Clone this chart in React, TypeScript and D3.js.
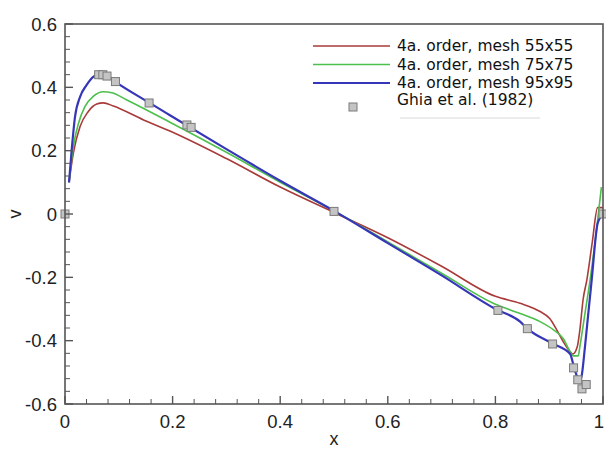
import React from "react";
import * as d3 from "d3";

const W = 606;
const H = 450;

// Series: 4a. order, mesh 55x55 (red)
const redX = [0.0075, 0.0155, 0.028, 0.043, 0.059, 0.071, 0.09, 0.146, 0.195, 0.3, 0.4, 0.5, 0.6, 0.7, 0.8, 0.846, 0.883, 0.901, 0.914, 0.926, 0.939, 0.944, 0.952, 0.957, 0.963, 0.970, 0.98, 0.99, 1.0];
const redV = [0.10, 0.192, 0.276, 0.323, 0.347, 0.351, 0.341, 0.297, 0.262, 0.175, 0.085, 0.005, -0.075, -0.165, -0.26, -0.282, -0.308, -0.33, -0.366, -0.403, -0.435, -0.442, -0.42, -0.366, -0.27, -0.208, -0.09, 0.02, 0.02];

// Series: 4a. order, mesh 75x75 (green)
const greenX = [0.0075, 0.0155, 0.025, 0.037, 0.053, 0.071, 0.087, 0.115, 0.195, 0.3, 0.4, 0.5, 0.6, 0.7, 0.8, 0.846, 0.883, 0.908, 0.926, 0.939, 0.945, 0.954, 0.957, 0.9665, 0.976, 0.988, 0.997];
const greenV = [0.10, 0.213, 0.286, 0.339, 0.372, 0.386, 0.383, 0.36, 0.29, 0.195, 0.1, 0.01, -0.088, -0.187, -0.285, -0.314, -0.34, -0.366, -0.393, -0.435, -0.448, -0.448, -0.419, -0.314, -0.208, -0.05, 0.085];

// Series: 4a. order, mesh 95x95 (blue)
const blueX = [0.0075, 0.0124, 0.0186, 0.028, 0.040, 0.053, 0.062, 0.075, 0.093, 0.158, 0.195, 0.3, 0.4, 0.5, 0.6, 0.7, 0.8, 0.846, 0.8594, 0.9045, 0.939, 0.945, 0.952, 0.957, 0.960, 0.9665, 0.9727, 0.979, 0.99, 1.0];
const blueV = [0.10, 0.202, 0.307, 0.37, 0.407, 0.434, 0.44, 0.44, 0.418, 0.35, 0.312, 0.205, 0.105, 0.01, -0.092, -0.194, -0.3, -0.34, -0.362, -0.408, -0.442, -0.477, -0.514, -0.524, -0.514, -0.419, -0.314, -0.208, -0.03, 0.0];

// Ghia et al. (1982) reference points
const ghiaX = [0.0, 0.0625, 0.0703, 0.0781, 0.0938, 0.1563, 0.2266, 0.2344, 0.5, 0.8047, 0.8594, 0.9063, 0.9453, 0.9531, 0.9609, 0.9688, 1.0];
const ghiaV = [0.0, 0.4398, 0.4398, 0.4356, 0.4182, 0.3506, 0.2812, 0.2735, 0.0082, -0.3045, -0.3621, -0.4105, -0.4859, -0.5235, -0.5522, -0.5386, 0.0];

const xTicks = [0, 0.2, 0.4, 0.6, 0.8, 1];
const xTickLabels = ["0", "0.2", "0.4", "0.6", "0.8", "1"];
const yTicks = [-0.6, -0.4, -0.2, 0, 0.2, 0.4, 0.6];
const yTickLabels = ["-0.6", "-0.4", "-0.2", "0", "0.2", "0.4", "0.6"];

const seriesNames = ["4a. order, mesh 55x55", "4a. order, mesh 75x75", "4a. order, mesh 95x95"];
const refName = "Ghia et al. (1982)";

export default function App() {
  const left = 65, right = 603, top = 24, bottom = 404;
  const x = d3.scaleLinear().domain([0, 1]).range([left, right]);
  const y = d3.scaleLinear().domain([-0.6, 0.6]).range([bottom, top]);

  const line = d3
    .line<[number, number]>()
    .x((d) => x(d[0]))
    .y((d) => y(d[1]))
    .curve(d3.curveMonotoneX);

  const series = [
    { xs: redX, vs: redV, color: "#a93a3a", w: 1.6 },
    { xs: greenX, vs: greenV, color: "#4cbf4c", w: 1.6 },
    { xs: blueX, vs: blueV, color: "#3636b8", w: 2.2 },
  ];

  const minorX = d3.range(0, 1.0001, 0.04).filter((v) => Math.abs(v * 5 - Math.round(v * 5)) > 1e-6);
  const minorY = d3.range(-0.6, 0.6001, 0.04).filter((v) => Math.abs(v * 5 - Math.round(v * 5)) > 1e-6);

  const axisColor = "#555";
  const font = "'Liberation Sans', Arial, sans-serif";
  const legFont = "'DejaVu Sans', Verdana, sans-serif";
  const sq = 8;

  const legRows = [46, 64.5, 83];
  const legLineX0 = 313, legLineX1 = 390, legTextX = 397;

  return (
    <svg
      width={W}
      height={H}
      style={{ position: "absolute", left: 0, top: 0, background: "#fff" }}
    >
      <rect x={0} y={0} width={W} height={H} fill="#fff" />

      {/* series lines */}
      {series.map((s, i) => (
        <path
          key={i}
          d={line(s.xs.map((xv, j) => [xv, s.vs[j]] as [number, number])) || ""}
          fill="none"
          stroke={s.color}
          strokeWidth={s.w}
          strokeLinejoin="round"
        />
      ))}

      {/* Ghia markers */}
      {ghiaX.map((xv, i) => (
        <rect
          key={i}
          x={x(xv) - sq / 2}
          y={y(ghiaV[i]) - sq / 2}
          width={sq}
          height={sq}
          fill="#c4c4c4"
          stroke="#7a7a7a"
          strokeWidth={1}
        />
      ))}

      {/* frame */}
      <rect x={left} y={top} width={right - left} height={bottom - top} fill="none" stroke={axisColor} strokeWidth={1.6} />

      {/* x ticks */}
      {xTicks.map((t, i) => (
        <g key={"xt" + i}>
          <line x1={x(t)} x2={x(t)} y1={bottom} y2={bottom - 8} stroke={axisColor} strokeWidth={1.4} />
          <text x={Math.min(x(t), 599)} y={421} textAnchor="middle" dominantBaseline="central" fontFamily={font} fontSize={18.5} fill="#222">
            {xTickLabels[i]}
          </text>
        </g>
      ))}
      {minorX.map((t, i) => (
        <line key={"xm" + i} x1={x(t)} x2={x(t)} y1={bottom} y2={bottom - 5} stroke={axisColor} strokeWidth={1} />
      ))}

      {/* y ticks */}
      {yTicks.map((t, i) => (
        <g key={"yt" + i}>
          <line x1={left} x2={left + 8} y1={y(t)} y2={y(t)} stroke={axisColor} strokeWidth={1.4} />
          <text x={57} y={y(t)} textAnchor="end" dominantBaseline="central" fontFamily={font} fontSize={18.5} fill="#222">
            {yTickLabels[i]}
          </text>
        </g>
      ))}
      {minorY.map((t, i) => (
        <line key={"ym" + i} x1={left} x2={left + 5} y1={y(t)} y2={y(t)} stroke={axisColor} strokeWidth={1} />
      ))}

      {/* axis titles */}
      <text x={(left + right) / 2} y={445} textAnchor="middle" fontFamily={font} fontSize={18} fill="#222">
        x
      </text>
      <text
        transform={`translate(15,${y(0)}) rotate(-90)`}
        textAnchor="middle"
        dominantBaseline="central"
        fontFamily={font}
        fontSize={18}
        fill="#222"
      >
        v
      </text>

      {/* legend */}
      {seriesNames.map((name, i) => (
        <g key={"lg" + i}>
          <line x1={legLineX0} x2={legLineX1} y1={legRows[i]} y2={legRows[i]} stroke={series[i].color} strokeWidth={series[i].w} />
          <text x={legTextX} y={legRows[i]} dominantBaseline="central" fontFamily={legFont} fontSize={15.5} fill="#111">
            {name}
          </text>
        </g>
      ))}
      <rect x={353 - sq / 2} y={107 - sq / 2} width={sq} height={sq} fill="#c4c4c4" stroke="#7a7a7a" strokeWidth={1} />
      <text x={legTextX} y={100} dominantBaseline="central" fontFamily={legFont} fontSize={15.5} fill="#111">
        {refName}
      </text>
      <line x1={400} x2={540} y1={118} y2={118} stroke="#e6e6e6" strokeWidth={1.5} />
    </svg>
  );
}
